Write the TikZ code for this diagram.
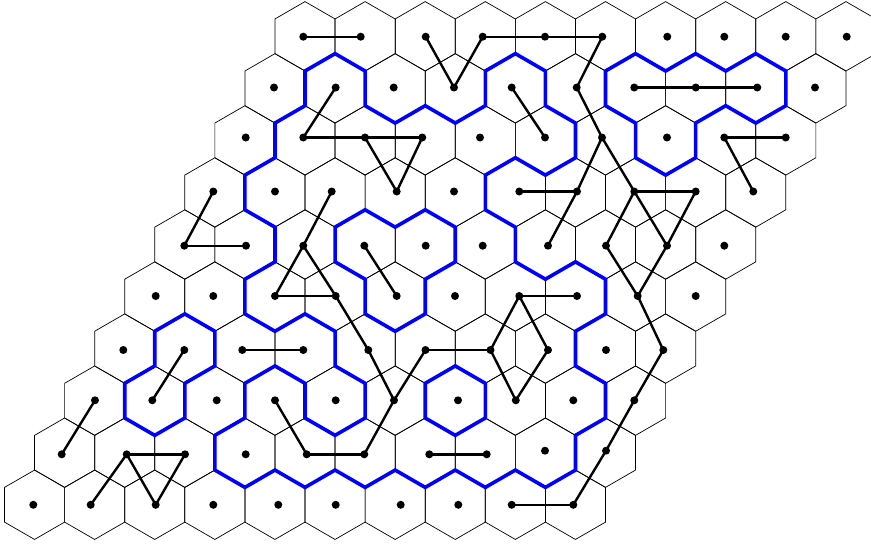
\documentclass[tikz,border=0pt]{standalone}
\begin{document}
\begin{tikzpicture}[x=1pt,y=-1pt,
  hexline/.style={black,line width=0.7pt},
  blueloop/.style={blue,line width=3.6pt,line join=miter},
  conn/.style={black,line width=2.4pt},
  dot/.style={circle,fill=black,inner sep=0pt,minimum size=8pt}]
\useasboundingbox (0,0) rectangle (871,546);
\clip (0,0) rectangle (871,546);
% lattice scope: (k,j) -> (305+30.05k, 1.6+17.35j)
\begin{scope}[shift={(305pt,-1.6pt)},x={(30.05pt,0pt)},y={(0pt,-17.35pt)}]
\foreach \r in {0,...,9}{
  \foreach \c in {0,...,9}{
    \pgfmathtruncatemacro\k{2*\c-\r}
    \pgfmathtruncatemacro\j{3*\r+2}
    \draw[hexline] (\k,\j-2) -- (\k+1,\j-1) -- (\k+1,\j+1) -- (\k,\j+2) -- (\k-1,\j+1) -- (\k-1,\j-1) -- cycle;
  }
}
% big loop
\draw[blueloop] (9,21) -- (10,22) -- (10,24) -- (9,25) -- (9,27) -- (8,28) -- (7,27) -- (6,28) -- (5,27) -- (4,28) -- (3,27) -- (2,28) -- (1,27) -- (0,28) -- (-1,27) -- (-2,28) -- (-3,27) -- (-3,25) -- (-2,24) -- (-2,22) -- (-1,21) -- (0,22) -- (0,24) -- (1,25) -- (2,24) -- (2,22) -- (1,21) -- (1,19) -- (0,18) -- (-1,19) -- (-2,18) -- (-2,16) -- (-1,15) -- (-1,13) -- (-2,12) -- (-2,10) -- (-1,9) -- (-1,7) -- (0,6) -- (0,4) -- (1,3) -- (2,4) -- (2,6) -- (3,7) -- (4,6) -- (5,7) -- (6,6) -- (6,4) -- (7,3) -- (8,4) -- (8,6) -- (9,7) -- (9,9) -- (8,10) -- (7,9) -- (6,10) -- (6,12) -- (7,13) -- (7,15) -- (8,16) -- (9,15) -- (10,16) -- (10,18) -- (9,19) -- cycle;
% top-right loop
\draw[blueloop] (10,4) -- (11,3) -- (12,4) -- (13,3) -- (14,4) -- (15,3) -- (16,4) -- (16,6) -- (15,7) -- (14,6) -- (13,7) -- (13,9) -- (12,10) -- (11,9) -- (11,7) -- (10,6) -- cycle;
% middle loop
\draw[blueloop] (1,13) -- (2,12) -- (3,13) -- (4,12) -- (5,13) -- (5,15) -- (4,16) -- (4,18) -- (3,19) -- (2,18) -- (2,16) -- (1,15) -- cycle;
% left loop
\draw[blueloop] (-5,19) -- (-4,18) -- (-3,19) -- (-3,21) -- (-4,22) -- (-4,24) -- (-5,25) -- (-6,24) -- (-6,22) -- (-5,21) -- cycle;
% single hex
\draw[blueloop] (5,21) -- (6,22) -- (6,24) -- (5,25) -- (4,24) -- (4,22) -- cycle;
\end{scope}
% dots
\foreach \x [count=\c from 0] in {303.3,360.7,425.7,482.7,545,602.3,667.3,724.3,785.7,846.7}
  \node[dot] (d0-\c) at (\x,36.7) {};
\foreach \x [count=\c from 0] in {274,335.7,393.7,454,511.7,576.7,634.3,695.7,757.3,815}
  \node[dot] (d1-\c) at (\x,87.5) {};
\foreach \x [count=\c from 0] in {245.7,303.3,365,422.3,480,545,602,667,724.3,785.7}
  \node[dot] (d2-\c) at (\x,137.5) {};
\foreach \x [count=\c from 0] in {213.3,275,331.7,396.7,454,519.3,577,634.3,695.7,753.3}
  \node[dot] (d3-\c) at (\x,191.5) {};
\foreach \x [count=\c from 0] in {184.3,246,303.3,364.3,425.7,482.7,548,606,667,724.3}
  \node[dot] (d4-\c) at (\x,245.7) {};
\foreach \x [count=\c from 0] in {155.7,213.3,275,335.7,396.7,455,519.3,577,637.7,695.7}
  \node[dot] (d5-\c) at (\x,296) {};
\foreach \x [count=\c from 0] in {123.3,184.3,242.3,303.3,368.3,425.5,490.5,548,606,663.3}
  \node[dot] (d6-\c) at (\x,350) {};
\foreach \x [count=\c from 0] in {95,152.3,216.7,275,335.7,394,458,515.8,573.3,634.3}
  \node[dot] (d7-\c) at (\x,400.3) {};
\foreach \x/\y [count=\c from 0] in {61.7/454.3,126.7/454.3,185/454.3,245.7/454.3,306.7/454.3,364.3/454.3,429.3/454.3,486.7/454.3,545/450.7,606/450.7}
  \node[dot] (d8-\c) at (\x,\y) {};
\foreach \x [count=\c from 0] in {33.3,90.7,155.7,213.3,278.3,335.7,400.7,458.3,511.7,573.3}
  \node[dot] (d9-\c) at (\x,504.8) {};
% connectors
\foreach \a/\b in {d0-0/d0-1, d0-2/d1-3, d1-3/d0-3, d0-3/d0-4, d0-4/d0-5, d0-5/d1-5, d1-5/d2-6,
  d1-1/d2-1, d2-1/d2-2, d2-2/d2-3, d2-2/d3-3, d2-3/d3-3, d1-4/d2-5, d1-6/d1-7, d1-7/d1-8,
  d2-8/d2-9, d2-8/d3-9, d2-6/d3-6, d3-6/d4-6, d2-6/d3-7, d3-7/d3-8, d3-7/d4-7, d3-7/d4-8,
  d3-8/d4-8, d4-7/d5-8, d4-8/d5-8, d5-8/d6-9, d6-9/d7-9, d7-9/d8-9, d8-9/d9-9, d9-9/d9-8,
  d3-5/d3-6, d3-2/d4-2, d4-2/d5-2, d4-2/d5-3, d5-2/d5-3, d5-3/d6-4, d6-4/d7-5, d4-3/d5-4,
  d5-6/d5-7, d5-6/d6-6, d5-6/d6-7, d6-6/d7-7, d6-7/d7-7, d6-5/d6-6, d6-5/d7-5, d7-5/d8-5,
  d8-5/d8-4, d8-4/d7-3, d8-6/d8-7, d3-0/d4-0, d4-0/d4-1, d6-2/d6-3, d6-1/d7-1, d7-0/d8-0,
  d8-1/d8-2, d8-1/d9-1, d8-1/d9-2, d8-2/d9-2}
  \draw[conn] (\a.center) -- (\b.center);
\end{tikzpicture}
\end{document}
